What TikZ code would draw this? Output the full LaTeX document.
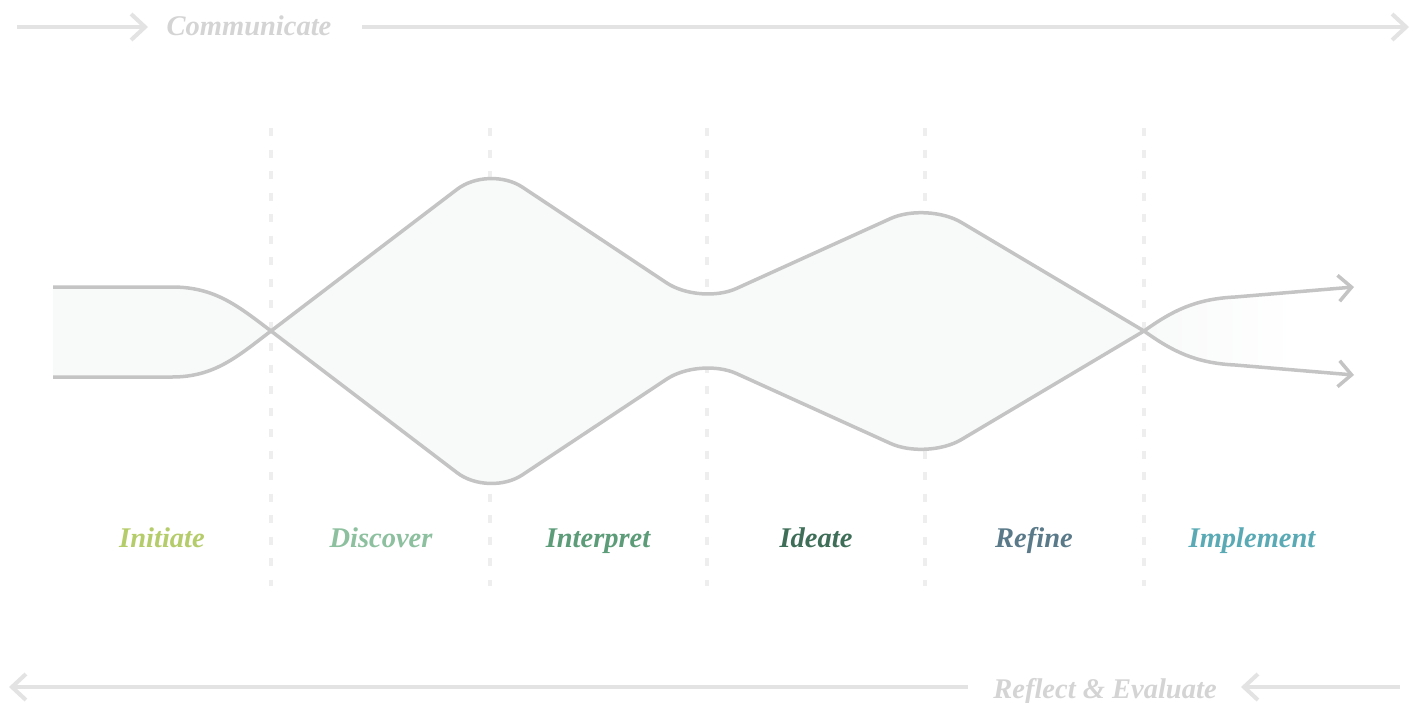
\documentclass[tikz,border=0pt]{standalone}
\usepackage{fontspec}
\usetikzlibrary{arrows.meta}
\newfontfamily\labfont{Liberation Serif}
\definecolor{barc}{HTML}{E3E3E3}
\definecolor{bartext}{HTML}{D4D4D4}
\definecolor{flowc}{HTML}{C4C4C4}
\definecolor{flowfill}{HTML}{F8F9F9}
\definecolor{dashc}{HTML}{EEEEEE}
\definecolor{cInitiate}{HTML}{B5CC6A}
\definecolor{cDiscover}{HTML}{8CC09E}
\definecolor{cInterpret}{HTML}{5C9C78}
\definecolor{cIdeate}{HTML}{3E6E58}
\definecolor{cRefine}{HTML}{5A7A8A}
\definecolor{cImplement}{HTML}{5AAAB6}
\tikzset{
  bar/.style={draw=barc, line width=4pt, -{Straight Barb[length=14pt,width=26pt,line width=4pt]}},
  bartxt/.style={text=bartext, font=\labfont\bfseries\itshape\fontsize{28.5}{32}\selectfont, inner sep=0pt, anchor=base},
  phase/.style={font=\labfont\bfseries\itshape\fontsize{28.5}{32}\selectfont, inner sep=0pt, anchor=base},
  sep/.style={draw=dashc, line width=4pt, dash pattern=on 8pt off 13.5pt},
  flow/.style={draw=flowc, line width=3.5pt, line join=round},
  tip/.style={-{Straight Barb[length=13pt,width=26pt,line width=3.5pt]}}
}
\begin{document}
\begin{tikzpicture}[x=1pt,y=-1pt]
\useasboundingbox (0,0) rectangle (1421,702);
\fill[white] (0,0) rectangle (1421,702);
% separators
\foreach \x in {271,490,707,925,1144}{
  \draw[sep] (\x,128) -- (\x,586);
}
% fill body
\fill[flowfill] (53,287) -- (172,287) .. controls (215,287) and (238,306) .. (271,331)
  [rounded corners=40pt] -- (489,165) -- (700,305) -- (927,202) [sharp corners] -- (1144,331)
  [rounded corners=40pt] -- (927,460) -- (700,357) -- (489,497) [sharp corners] -- (271,331)
  .. controls (238,356) and (215,377) .. (172,377) -- (53,377) -- cycle;
\shade[left color=flowfill, right color=white] (1144,331) .. controls (1172,311) and (1195,299) .. (1235,297)
  -- (1295,292) -- (1295,370) -- (1235,365) .. controls (1195,363) and (1172,351) .. (1144,331) -- cycle;
% strokes
\draw[flow] (53,287) -- (172,287) .. controls (215,287) and (238,306) .. (271,331);
\draw[flow] (53,377) -- (172,377) .. controls (215,377) and (238,356) .. (271,331);
\draw[flow] (271,331) [rounded corners=40pt] -- (489,165) -- (700,305) -- (927,202) -- (1144,331);
\draw[flow] (271,331) [rounded corners=40pt] -- (489,497) -- (700,357) -- (927,460) -- (1144,331);
\coordinate (x2) at (1144,331);
\coordinate (outA) at (1354,287);
\coordinate (outB) at (1354,375);
\draw[flow,tip] (x2) .. controls (1172,311) and (1195,299) .. (1235,297) -- (outA);
\draw[flow,tip] (x2) .. controls (1172,351) and (1195,363) .. (1235,365) -- (outB);
% top bar
\node[bartxt] (comm) at (249,35) {Communicate};
\coordinate (cs) at (17,27);
\coordinate (ct1) at (148,27);
\coordinate (cs2) at (362,27);
\coordinate (ct2) at (1409,27);
\draw[bar] (cs) -- (ct1);
\draw[bar] (cs2) -- (ct2);
% bottom bar
\node[bartxt] (refl) at (1105,698) {Reflect \& Evaluate};
\coordinate (rs) at (968,687);
\coordinate (rt) at (9,687);
\coordinate (rs2) at (1400,687);
\coordinate (rt2) at (1241,687);
\draw[bar] (rs) -- (rt);
\draw[bar] (rs2) -- (rt2);
% phases
\node[phase,text=cInitiate] (p1) at (162,547) {Initiate};
\node[phase,text=cDiscover] (p2) at (381,547) {Discover};
\node[phase,text=cInterpret] (p3) at (598,547) {Interpret};
\node[phase,text=cIdeate] (p4) at (816,547) {Ideate};
\node[phase,text=cRefine] (p5) at (1034,547) {Refine};
\node[phase,text=cImplement] (p6) at (1252,547) {Implement};
\end{tikzpicture}
\end{document}
